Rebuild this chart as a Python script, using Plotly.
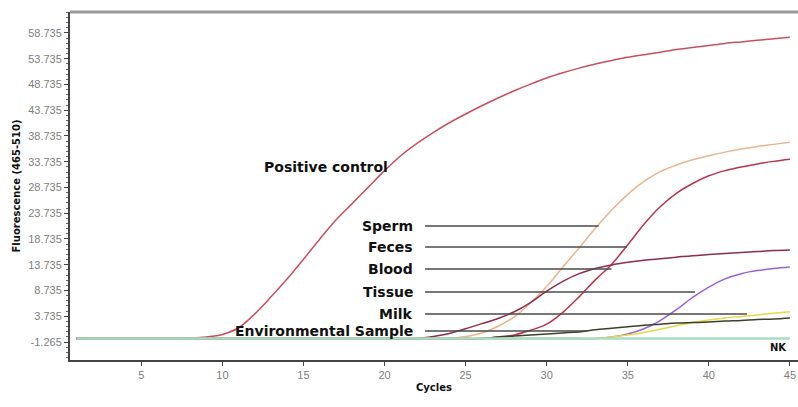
import plotly.graph_objects as go

# ---------------- data ----------------
cycles = list(range(1, 46))

positive_control = [-0.6, -0.6, -0.6, -0.6, -0.6, -0.6, -0.6, -0.5, -0.3, 0.2,
                    1.5, 4.2, 7.5, 11.0, 14.8, 18.7, 22.4, 25.6, 28.8, 32.0,
                    34.9, 37.3, 39.4, 41.3, 43.0, 44.6, 46.1, 47.5, 48.8, 50.0,
                    51.0, 51.9, 52.7, 53.4, 54.0, 54.5, 55.0, 55.5, 55.9, 56.3,
                    56.7, 57.0, 57.3, 57.6, 57.9]

sperm = [-0.6] * 24 + [-0.2, 0.5, 1.8, 3.6, 6.3, 9.5, 13.3, 17.0, 20.8, 24.3,
                       27.4, 29.9, 31.8, 33.1, 34.1, 34.9, 35.6, 36.2, 36.7,
                       37.1, 37.5]

feces = [-0.6] * 26 + [-0.3, 0.1, 1.0, 2.2, 4.5, 7.5, 10.8, 13.8, 17.6, 21.6,
                       25.0, 27.6, 29.5, 31.0, 32.0, 32.7, 33.3, 33.8, 34.2]

blood = [-0.6] * 22 + [-0.2, 0.4, 1.3, 2.3, 3.3, 4.6, 6.4, 8.6, 10.5, 12.0,
                       13.0, 13.7, 14.2, 14.6, 14.9, 15.2, 15.5, 15.7, 15.9,
                       16.1, 16.3, 16.5, 16.6]

tissue = [-0.6] * 33 + [-0.3, 0.3, 1.3, 2.9, 5.0, 7.4, 9.4, 11.0, 12.0, 12.6,
                        13.0, 13.3]

milk = [-0.6] * 33 + [-0.3, 0.1, 0.6, 1.2, 1.9, 2.5, 3.0, 3.4, 3.7, 4.0, 4.3,
                      4.6]

environmental = [-0.6] * 26 + [-0.3, -0.1, 0.1, 0.3, 0.5, 0.7, 1.1, 1.4, 1.7,
                               2.0, 2.2, 2.4, 2.5, 2.6, 2.8, 2.9, 3.1, 3.2, 3.4]

nk = [-0.6] * 45

series_names = ["Positive control", "Sperm", "Feces", "Blood", "Tissue",
                "Milk", "Environmental Sample", "NK"]
series_values = [positive_control, sperm, feces, blood, tissue, milk,
                 environmental, nk]
series_colors = ["#c8505e", "#e9b58e", "#b8344f", "#8e2c4c",
                 "#9a62d2", "#e6d84a", "#3e3e2c", "#a9dcc2"]
series_widths = [1.5, 1.5, 1.5, 1.5, 1.5, 1.5, 1.5, 2.5]

# labels with leader lines
label_names = ["Sperm", "Feces", "Blood", "Tissue", "Milk",
               "Environmental Sample"]
label_levels = [21.26, 17.18, 12.91, 8.44, 4.17, 0.87]
label_text_x = 21.9
label_line_start = 22.5
label_line_end = [33.2, 34.95, 34.0, 39.15, 42.35, 32.5]

y_ticks = [-1.265 + 5 * i for i in range(13)]
y_tick_text = [f"{v:.3f}" for v in y_ticks]
x_ticks = [5, 10, 15, 20, 25, 30, 35, 40, 45]

# ---------------- figure ----------------
fig = go.Figure()
for name, vals, col, w in zip(series_names, series_values, series_colors,
                              series_widths):
    fig.add_trace(go.Scatter(x=cycles, y=vals, mode="lines", name=name,
                             line=dict(color=col, width=w, shape="spline"),
                             showlegend=False))

bold = dict(family="DejaVu Sans", size=14, color="#111111", weight="bold")

for name, lvl, xe in zip(label_names, label_levels, label_line_end):
    fig.add_annotation(x=label_text_x, y=lvl, xref="x", yref="y", text=name,
                       showarrow=False, xanchor="right", yanchor="middle",
                       font=bold)
    fig.add_shape(type="line", xref="x", yref="y", x0=label_line_start,
                  x1=xe, y0=lvl, y1=lvl,
                  line=dict(color="#4a4a4a", width=1.5))

fig.add_annotation(x=20.35, y=32.7, xref="x", yref="y",
                   text="Positive control", showarrow=False,
                   xanchor="right", yanchor="middle", font=bold)
fig.add_annotation(x=44.3, y=-2.4, xref="x", yref="y", text="NK",
                   showarrow=False, xanchor="center", yanchor="middle",
                   font=dict(family="DejaVu Sans", size=10, color="#111111",
                             weight="bold"))

# top border
fig.add_shape(type="line", xref="paper", yref="paper", x0=0, x1=1, y0=1,
              y1=1, line=dict(color="#9a9a9a", width=3))

tickfont = dict(family="Liberation Sans", size=11, color="#808080")

fig.update_layout(
    width=798, height=407,
    margin=dict(l=70, r=0, t=12, b=47, autoexpand=False),
    paper_bgcolor="white", plot_bgcolor="white",
    showlegend=False,
    xaxis=dict(range=[0.6, 45.5], tickmode="array", tickvals=x_ticks,
               ticks="outside", ticklen=4, tickcolor="#444444",
               showgrid=False, zeroline=False, showline=True,
               linecolor="#444444", linewidth=2, tickfont=tickfont,
               automargin=False,
               title=dict(text="Cycles", standoff=4,
                          font=dict(family="DejaVu Sans", size=10,
                                    color="#111111", weight="bold"))),
    yaxis=dict(range=[-4.76, 62.8], tickmode="array", tickvals=y_ticks,
               ticktext=y_tick_text, ticks="outside", ticklen=4,
               tickcolor="#444444", showgrid=False, zeroline=False,
               showline=True, linecolor="#444444", linewidth=2,
               tickfont=tickfont, automargin=False,
               minor=dict(tickmode="linear", tick0=-1.265, dtick=1,
                          ticks="outside", ticklen=2, tickcolor="#666666",
                          showgrid=False),
               title=dict(text="Fluorescence (465-510)", standoff=6,
                          font=dict(family="DejaVu Sans", size=10,
                                    color="#111111", weight="bold"))),
)

fig.write_html("out.html",
               config={"displayModeBar": False},
               post_script="document.body.style.margin='0';"
                           "document.body.style.overflow='hidden';")
